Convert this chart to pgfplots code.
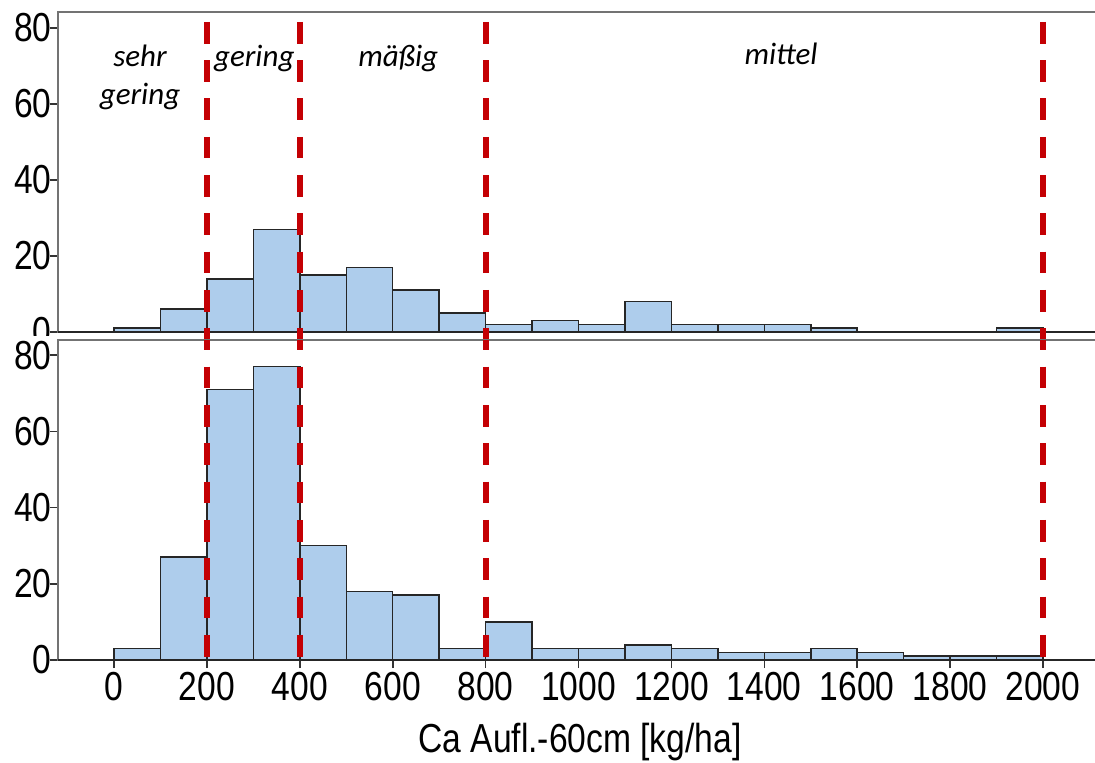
\documentclass[border=0pt]{standalone}
\usepackage{pgfplots}
\pgfplotsset{compat=1.18}
\usepackage{fontspec}
\setmainfont{Liberation Sans}[FakeStretch=0.83]
\newfontfamily\labfont{Carlito}
\definecolor{barblue}{RGB}{174,205,236}
\definecolor{dred}{RGB}{196,0,4}
\definecolor{framegray}{RGB}{115,115,115}
\pgfplotsset{
  panel/.style={
    scale only axis, width=523.5pt, height=160pt,
    xmin=-120.6, xmax=2133.5, ymin=0,
    axis line style={framegray, line width=1pt},
    tick align=outside, major tick length=4pt,
    tick style={black!80, line width=0.8pt},
    ytick={0,20,40,60,80}, ytick pos=left, xtick pos=bottom,
    /pgf/number format/assume math mode=true,
    /pgf/number format/1000 sep={},
    tick label style={font=\fontsize{20.25}{24}\selectfont},
    yticklabel style={anchor=east, inner sep=0pt, xshift=1pt},
  },
  bars/.style={ybar interval, fill=barblue, draw=black!85, line width=0.75pt},
}
\tikzset{lab/.style={font=\labfont\itshape\fontsize{15.5}{18}\selectfont, anchor=base, inner sep=0pt}}
\begin{document}
\begin{tikzpicture}
\path[use as bounding box] (0pt,0pt) rectangle (547.5pt,381pt);
% top panel
\begin{axis}[panel, at={(29pt,215pt)}, anchor=south west, ymax=84.2, xtick=\empty, clip=false]
\addplot[bars] coordinates {
(0,1)(100,6)(200,14)(300,27)(400,15)(500,17)(600,11)(700,5)(800,2)(900,3)
(1000,2)(1100,8)(1200,2)(1300,2)(1400,2)(1500,1)(1600,0)(1700,0)(1800,0)(1900,1)(2000,0)};
\draw[black!85, line width=1pt] (axis cs:-120.6,0) -- (axis cs:2133.5,0);
\foreach \xx in {200,400,800,2000}{
  \edef\temp{\noexpand\addplot[dred, line width=3pt, dash pattern=on 10.85pt off 8.3pt, forget plot] coordinates {(\xx,81.6)(\xx,-2.1)};}
  \temp
}
\node[lab] at (axis cs:56,69.8) {sehr};
\node[lab] at (axis cs:56,59.8) {gering};
\node[lab] at (axis cs:302,69.8) {gering};
\node[lab] at (axis cs:612,69.8) {mäßig};
\node[lab] at (axis cs:1436,70.3) {mittel};
\end{axis}
\fill[white] (0pt,207pt) rectangle (28.5pt,213pt);
% bottom panel
\begin{axis}[panel, at={(29pt,51pt)}, anchor=south west, ymax=84,
  xtick={0,200,...,2000},
  xticklabel style={anchor=north, inner sep=0pt, yshift=-2pt},
  xlabel={Ca Aufl.-60cm [kg/ha]},
  xlabel style={at={(axis description cs:0.4985,0)}, anchor=base, yshift=-46pt, inner sep=0pt, font=\fontsize{20.25}{24}\selectfont}]
\addplot[bars] coordinates {
(0,3)(100,27)(200,71)(300,77)(400,30)(500,18)(600,17)(700,3)(800,10)(900,3)
(1000,3)(1100,4)(1200,3)(1300,2)(1400,2)(1500,3)(1600,2)(1700,1)(1800,1)(1900,1)(2000,0)};
\draw[black!85, line width=1pt] (axis cs:-120.6,0) -- (axis cs:2133.5,0);
\foreach \xx in {200,400,800,2000}{
  \edef\temp{\noexpand\addplot[dred, line width=3pt, dash pattern=on 10.85pt off 8.3pt, dash phase=5.8pt, forget plot] coordinates {(\xx,84)(\xx,0)};}
  \temp
}
\end{axis}
\end{tikzpicture}
\end{document}
